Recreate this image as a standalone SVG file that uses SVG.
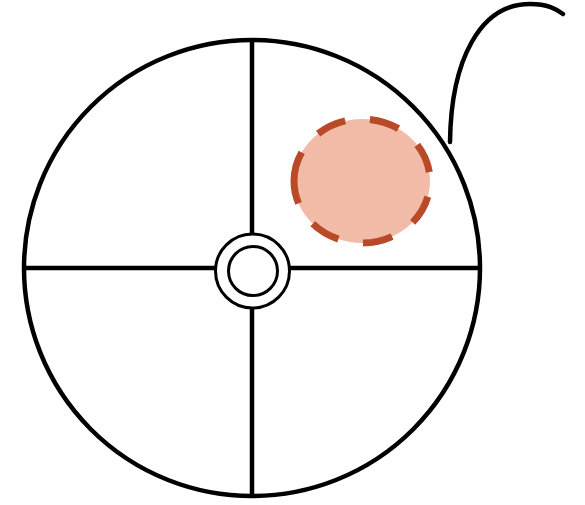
<svg xmlns="http://www.w3.org/2000/svg" width="585" height="505" viewBox="0 0 585 505">
<style>
.ln{stroke:#000;stroke-width:4.5;fill:none}
</style>
<rect width="585" height="505" fill="#fff"/>
<g id="connectors">
<line class="ln" x1="252" y1="40" x2="252" y2="496"/>
<line class="ln" x1="24" y1="268" x2="480" y2="268"/>
<path class="ln" d="M450,142 C451,60 480,4 530,4 C548,4 556,9 563,14" stroke-linecap="round"/>
</g>
<g id="wheel">
<circle class="ln" cx="252" cy="268" r="228"/>
</g>
<g id="hub">
<circle cx="252.5" cy="271" r="37" fill="#fff" stroke="#000" stroke-width="3"/>
<circle cx="253" cy="271" r="24.5" fill="#fff" stroke="#000" stroke-width="3"/>
</g>
<g id="spot">
<path d="M294,181 A68,62 0 1 1 430,181 A68,62 0 1 1 294,181 Z" fill="#F2BBA8" stroke="#B84A27" stroke-width="7" stroke-dasharray="30 25"/>
</g>
</svg>
